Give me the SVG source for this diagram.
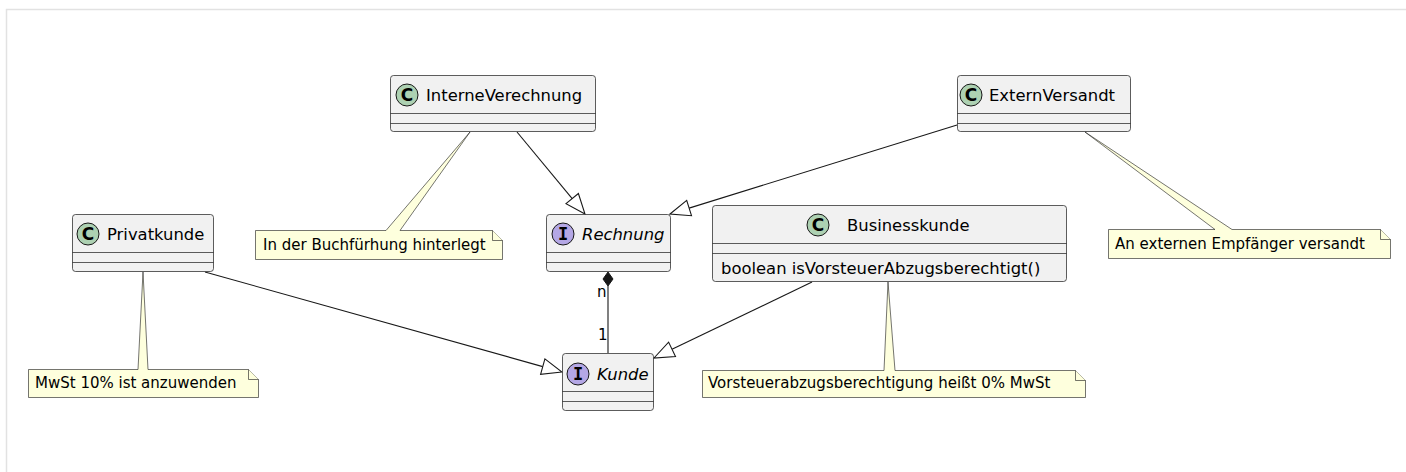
<svg xmlns="http://www.w3.org/2000/svg" width="1406" height="472" viewBox="0 0 1406 472">
<style>
.box{fill:#F1F1F1;stroke:#181818;stroke-width:0.7}
.sep{stroke:#181818;stroke-width:0.7}
.cname{font-family:"DejaVu Sans",sans-serif;font-size:16.4px;fill:#000}
.iname{font-family:"DejaVu Sans",sans-serif;font-size:16.4px;font-style:italic;fill:#000}
.cc{fill:#ADD1B2;stroke:#181818;stroke-width:1}
.ic{fill:#B4A7E5;stroke:#181818;stroke-width:1}
.glyph{font-family:"DejaVu Sans",sans-serif;font-size:17px;font-weight:bold;fill:#000;text-anchor:middle}
.iglyph{font-family:"DejaVu Sans Mono",monospace;font-size:17px;font-weight:bold;fill:#000;text-anchor:middle}
.note{fill:#FEFFDD;stroke:#181818;stroke-width:0.6}
.ntext{font-family:"DejaVu Sans",sans-serif;font-size:15px;fill:#000}
.edge{stroke:#181818;stroke-width:1.1;fill:none}
.head{fill:#FFFFFF;stroke:#181818;stroke-width:1.1}
.lbl{font-family:"DejaVu Sans",sans-serif;font-size:15px;fill:#000}
</style>
<path d="M6.5,472 V9.5 H1406" fill="none" stroke="#e2e2e2" stroke-width="1.5"/>

<g id="connectors">
  <line class="edge" x1="517" y1="132" x2="572.2" y2="198.6"/>
  <polygon class="head" points="585,214 566,203.7 578.4,193.5"/>
  <line class="edge" x1="957" y1="125" x2="689.1" y2="208.1"/>
  <polygon class="head" points="670,214 686.7,200.4 691.5,215.7"/>
  <line class="edge" x1="205" y1="272" x2="542.7" y2="366.6"/>
  <polygon class="head" points="562,372 540.6,374.3 544.9,358.9"/>
  <line class="edge" x1="812" y1="282" x2="672" y2="349.3"/>
  <polygon class="head" points="654,358 668.6,342.1 675.5,356.5"/>
  <line class="edge" x1="608" y1="286" x2="608" y2="353"/>
  <polygon points="608,272 613,279 608,286 603,279" fill="#181818" stroke="#181818" stroke-width="1"/>
  <text class="lbl" x="597" y="297">n</text>
  <text class="lbl" x="598" y="340">1</text>
</g>

<g id="InterneVerechnung">
  <rect class="box" x="390.5" y="75.5" width="205" height="56" rx="3"/>
  <line class="sep" x1="390.5" y1="113.5" x2="595.5" y2="113.5"/>
  <line class="sep" x1="390.5" y1="123.5" x2="595.5" y2="123.5"/>
  <circle class="cc" cx="407" cy="95" r="11"/>
  <text class="glyph" x="407" y="101">C</text>
  <text class="cname" x="426" y="101">InterneVerechnung</text>
</g>

<g id="ExternVersandt">
  <rect class="box" x="957.5" y="75.5" width="173" height="56" rx="3"/>
  <line class="sep" x1="957.5" y1="113.5" x2="1130.5" y2="113.5"/>
  <line class="sep" x1="957.5" y1="123.5" x2="1130.5" y2="123.5"/>
  <circle class="cc" cx="971" cy="95" r="11"/>
  <text class="glyph" x="971" y="101">C</text>
  <text class="cname" x="989" y="101">ExternVersandt</text>
</g>

<g id="Rechnung">
  <rect class="box" x="546.5" y="214.5" width="124" height="57" rx="3"/>
  <line class="sep" x1="546.5" y1="252.5" x2="670.5" y2="252.5"/>
  <line class="sep" x1="546.5" y1="262.5" x2="670.5" y2="262.5"/>
  <circle class="ic" cx="563" cy="234" r="11"/>
  <text class="iglyph" x="563" y="240">I</text>
  <text class="iname" x="582" y="240">Rechnung</text>
</g>

<g id="Privatkunde">
  <rect class="box" x="72.5" y="214.5" width="141" height="57" rx="3"/>
  <line class="sep" x1="72.5" y1="252.5" x2="213.5" y2="252.5"/>
  <line class="sep" x1="72.5" y1="262.5" x2="213.5" y2="262.5"/>
  <circle class="cc" cx="88" cy="234" r="11"/>
  <text class="glyph" x="88" y="240">C</text>
  <text class="cname" x="107" y="240">Privatkunde</text>
</g>

<g id="Businesskunde">
  <rect class="box" x="712.5" y="205.5" width="354" height="76" rx="3"/>
  <line class="sep" x1="712.5" y1="243.5" x2="1066.5" y2="243.5"/>
  <line class="sep" x1="712.5" y1="253.5" x2="1066.5" y2="253.5"/>
  <circle class="cc" cx="818" cy="225" r="11"/>
  <text class="glyph" x="818" y="231">C</text>
  <text class="cname" x="847" y="231">Businesskunde</text>
  <text class="cname" x="721" y="274">boolean isVorsteuerAbzugsberechtigt()</text>
</g>

<g id="Kunde">
  <rect class="box" x="562.5" y="353.5" width="91" height="57" rx="3"/>
  <line class="sep" x1="562.5" y1="391.5" x2="653.5" y2="391.5"/>
  <line class="sep" x1="562.5" y1="401.5" x2="653.5" y2="401.5"/>
  <circle class="ic" cx="578" cy="374" r="11"/>
  <text class="iglyph" x="578" y="380">I</text>
  <text class="iname" x="597" y="380">Kunde</text>
</g>

<g id="note1">
  <path class="note" d="M255.5,230.5 H386 L470,132 L400,230.5 H492.5 L502.5,240.5 V259.5 H255.5 Z"/>
  <path class="note" d="M492.5,230.5 V240.5 H502.5"/>
  <text class="ntext" x="263" y="250">In der Buchfürhung hinterlegt</text>
</g>

<g id="note2">
  <path class="note" d="M1108.5,229.5 H1215 L1085,132 L1232,229.5 H1380.5 L1390.5,239.5 V258.5 H1108.5 Z"/>
  <path class="note" d="M1380.5,229.5 V239.5 H1390.5"/>
  <text class="ntext" x="1115" y="249">An externen Empfänger versandt</text>
</g>

<g id="note3">
  <path class="note" d="M28.5,369.5 H138 L143,272 L148,369.5 H248.5 L258.5,379.5 V397.5 H28.5 Z"/>
  <path class="note" d="M248.5,369.5 V379.5 H258.5"/>
  <text class="ntext" x="35" y="388">MwSt 10% ist anzuwenden</text>
</g>

<g id="note4">
  <path class="note" d="M702.5,370.5 H884 L888,282 L895,370.5 H1075.5 L1085.5,380.5 V397.5 H702.5 Z"/>
  <path class="note" d="M1075.5,370.5 V380.5 H1085.5"/>
  <text class="ntext" x="708" y="388">Vorsteuerabzugsberechtigung heißt 0% MwSt</text>
</g>
</svg>
